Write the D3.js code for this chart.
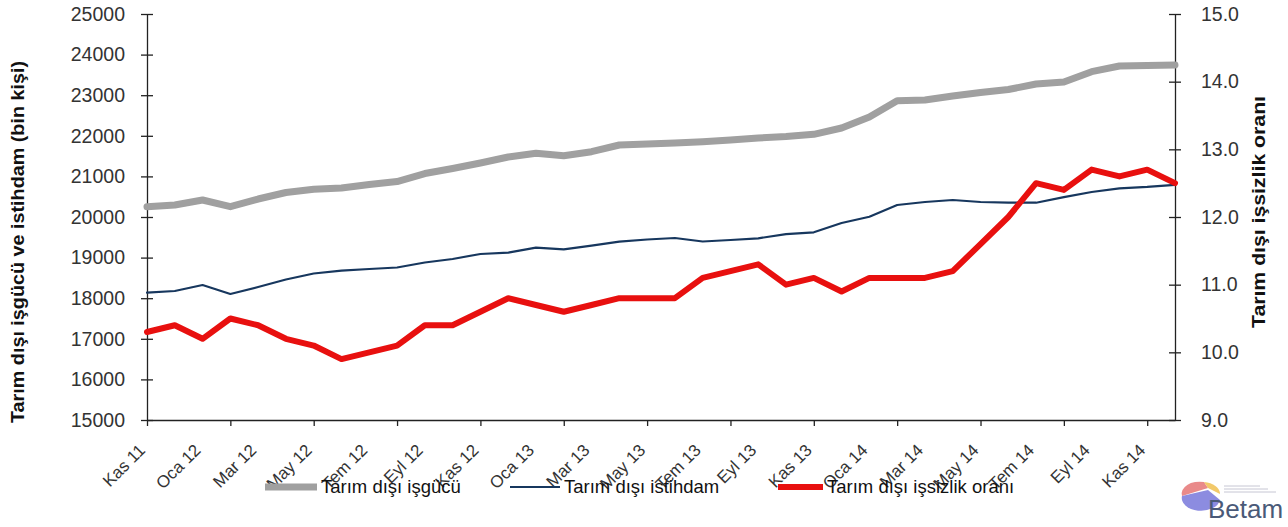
<!DOCTYPE html>
<html>
<head>
<meta charset="utf-8">
<script src="https://cdn.jsdelivr.net/npm/d3@7"></script>
<style>
  body { margin: 0; background: #fff; }
  svg { font-family: "Liberation Sans", Arial, sans-serif; }
  .axis path, .axis line { stroke: #222; stroke-width: 1.3px; }
  .axis text { fill: #333; }
</style>
</head>
<body>
<div id="chart"></div>
<script>
const width = 1288;
const height = 527;

// months Kas 11 .. Ara 14
const monthNames = ['Oca', 'Şub', 'Mar', 'Nis', 'May', 'Haz', 'Tem', 'Ağu', 'Eyl', 'Eki', 'Kas', 'Ara'];
const months = [];
for (let k = 0; k < 38; k++) {
  const m = (10 + k) % 12;
  const y = 11 + Math.floor((10 + k) / 12);
  months.push(`${monthNames[m]} ${y}`);
}

// Tarım dışı işgücü (bin kişi)
const labourForce = [20254, 20296, 20419, 20254, 20443, 20603, 20682, 20714, 20800, 20872,
  21071, 21195, 21330, 21478, 21569, 21510, 21608, 21773, 21798, 21823,
  21855, 21896, 21945, 21983, 22037, 22192, 22463, 22865, 22882, 22980,
  23066, 23140, 23276, 23325, 23579, 23719, 23731, 23744];

// Tarım dışı istihdam (bin kişi)
const employment = [18135, 18177, 18325, 18103, 18276, 18461, 18608, 18677, 18719, 18756,
  18879, 18966, 19089, 19121, 19244, 19204, 19293, 19392, 19446, 19483,
  19397, 19433, 19475, 19580, 19623, 19852, 20007, 20296, 20370, 20419,
  20370, 20352, 20352, 20490, 20615, 20707, 20740, 20790];

// Tarım dışı işsizlik oranı (%)
const unemploymentRate = [10.3, 10.4, 10.2, 10.5, 10.4, 10.2, 10.1, 9.9, 10.0, 10.1,
  10.4, 10.4, 10.6, 10.8, 10.7, 10.6, 10.7, 10.8, 10.8, 10.8,
  11.1, 11.2, 11.3, 11.0, 11.1, 10.9, 11.1, 11.1, 11.1, 11.2,
  11.6, 12.0, 12.5, 12.4, 12.7, 12.6, 12.7, 12.5];

const leftTicks = d3.range(15000, 25001, 1000);
const rightTicks = d3.range(9, 15.01, 1);

const series = [
  { name: 'Tarım dışı işgücü', values: labourForce, axis: 'left', color: '#a0a0a0', width: 7 },
  { name: 'Tarım dışı istihdam', values: employment, axis: 'left', color: '#17375e', width: 2.2 },
  { name: 'Tarım dışı işsizlik oranı', values: unemploymentRate, axis: 'right', color: '#e8100f', width: 6 }
];

const margin = { top: 14, right: 113, bottom: 107, left: 147 };

const svg = d3.select('#chart')
  .append('svg')
  .attr('width', width)
  .attr('height', height);

const x = d3.scalePoint()
  .domain(months)
  .range([margin.left, width - margin.right]);

const yLeft = d3.scaleLinear()
  .domain([15000, 25000])
  .range([height - margin.bottom, margin.top]);

const yRight = d3.scaleLinear()
  .domain([9, 15])
  .range([height - margin.bottom, margin.top]);

const bottomY = height - margin.bottom;

// x axis: ticks every 3 months, labels every 2 months
svg.append('g')
  .attr('class', 'axis')
  .attr('transform', `translate(0,${bottomY})`)
  .call(d3.axisBottom(x)
    .tickValues(months.filter((d, i) => i % 3 === 0))
    .tickSize(6)
    .tickSizeOuter(0)
    .tickFormat(''));

svg.append('g')
  .attr('class', 'xlabels')
  .selectAll('text')
  .data(months.filter((d, i) => i % 2 === 0 && i < 37))
  .join('text')
  .attr('transform', (d) => `translate(${x(d) - 5},${bottomY + 27}) rotate(-45)`)
  .attr('text-anchor', 'end')
  .attr('dy', '0.35em')
  .attr('font-size', 17)
  .attr('fill', '#333')
  .text((d) => d);

// left axis with crossing ticks
const leftAxis = svg.append('g')
  .attr('class', 'axis')
  .attr('transform', `translate(${margin.left},0)`)
  .call(d3.axisLeft(yLeft)
    .tickValues(leftTicks)
    .tickSize(6)
    .tickSizeOuter(0)
    .tickPadding(16)
    .tickFormat(d3.format('d')));
leftAxis.selectAll('.tick line').attr('x1', 6);
leftAxis.selectAll('text').attr('font-size', 19.5).attr('font-family', '"Liberation Sans", Arial, sans-serif');

// right axis with crossing ticks
const rightAxis = svg.append('g')
  .attr('class', 'axis')
  .attr('transform', `translate(${width - margin.right},0)`)
  .call(d3.axisRight(yRight)
    .tickValues(rightTicks)
    .tickSize(6)
    .tickSizeOuter(0)
    .tickPadding(20)
    .tickFormat(d3.format('.1f')));
rightAxis.selectAll('.tick line').attr('x1', -6);
rightAxis.selectAll('text').attr('font-size', 19.5).attr('font-family', '"Liberation Sans", Arial, sans-serif');

// axis titles
svg.append('text')
  .attr('transform', 'translate(24,242) rotate(-90)')
  .attr('text-anchor', 'middle')
  .attr('font-size', 18)
  .attr('font-weight', 'bold')
  .attr('fill', '#111')
  .attr('textLength', 362)
  .attr('lengthAdjust', 'spacingAndGlyphs')
  .text('Tarım dışı işgücü ve istihdam (bin kişi)');

svg.append('text')
  .attr('transform', 'translate(1265,212) rotate(-90)')
  .attr('text-anchor', 'middle')
  .attr('font-size', 18)
  .attr('font-weight', 'bold')
  .attr('fill', '#111')
  .attr('textLength', 232)
  .attr('lengthAdjust', 'spacingAndGlyphs')
  .text('Tarım dışı işsizlik oranı');

// lines
for (const s of series) {
  const yScale = s.axis === 'left' ? yLeft : yRight;
  const line = d3.line()
    .x((d, i) => x(months[i]))
    .y((d) => yScale(d));
  svg.append('path')
    .datum(s.values)
    .attr('fill', 'none')
    .attr('stroke', s.color)
    .attr('stroke-width', s.width)
    .attr('stroke-linejoin', 'round')
    .attr('stroke-linecap', 'round')
    .attr('d', line);
}

// legend
const legendX = [265, 510, 778];
const legendLen = [52, 50, 45];
const legend = svg.append('g').attr('class', 'legend');
series.forEach((s, i) => {
  const g = legend.append('g').attr('transform', `translate(${legendX[i]},487)`);
  g.append('line')
    .attr('x1', 0).attr('x2', legendLen[i])
    .attr('stroke', s.color)
    .attr('stroke-width', s.width);
  g.append('text')
    .attr('x', legendLen[i] + 4)
    .attr('dy', '0.35em')
    .attr('font-size', 18.5)
    .attr('fill', '#111')
    .text(s.name);
});

// Betam logo
const logo = svg.append('g').attr('transform', 'translate(1200,492)');
logo.append('path')
  .attr('d', 'M-18,4 A18,12 0 0 1 4,-10 L8,-4 Z')
  .attr('fill', '#e98a8a');
logo.append('path')
  .attr('d', 'M4,-10 A18,12 0 0 1 20,2 L8,-4 Z')
  .attr('fill', '#f2c96a');
logo.append('path')
  .attr('d', 'M-18,4 A18,12 0 0 0 20,8 L8,-2 Z')
  .attr('fill', '#8c8ce0');
logo.append('text')
  .attr('x', 8)
  .attr('y', 26)
  .attr('font-size', 26)
  .attr('fill', '#4a5a78')
  .text('Betam');
for (let k = 0; k < 3; k++) {
  logo.append('line')
    .attr('x1', 24).attr('x2', 60 + k * 8)
    .attr('y1', -6 + k * 3).attr('y2', -6 + k * 3)
    .attr('stroke', '#b8b8c8')
    .attr('stroke-width', 0.8);
}
</script>
</body>
</html>
